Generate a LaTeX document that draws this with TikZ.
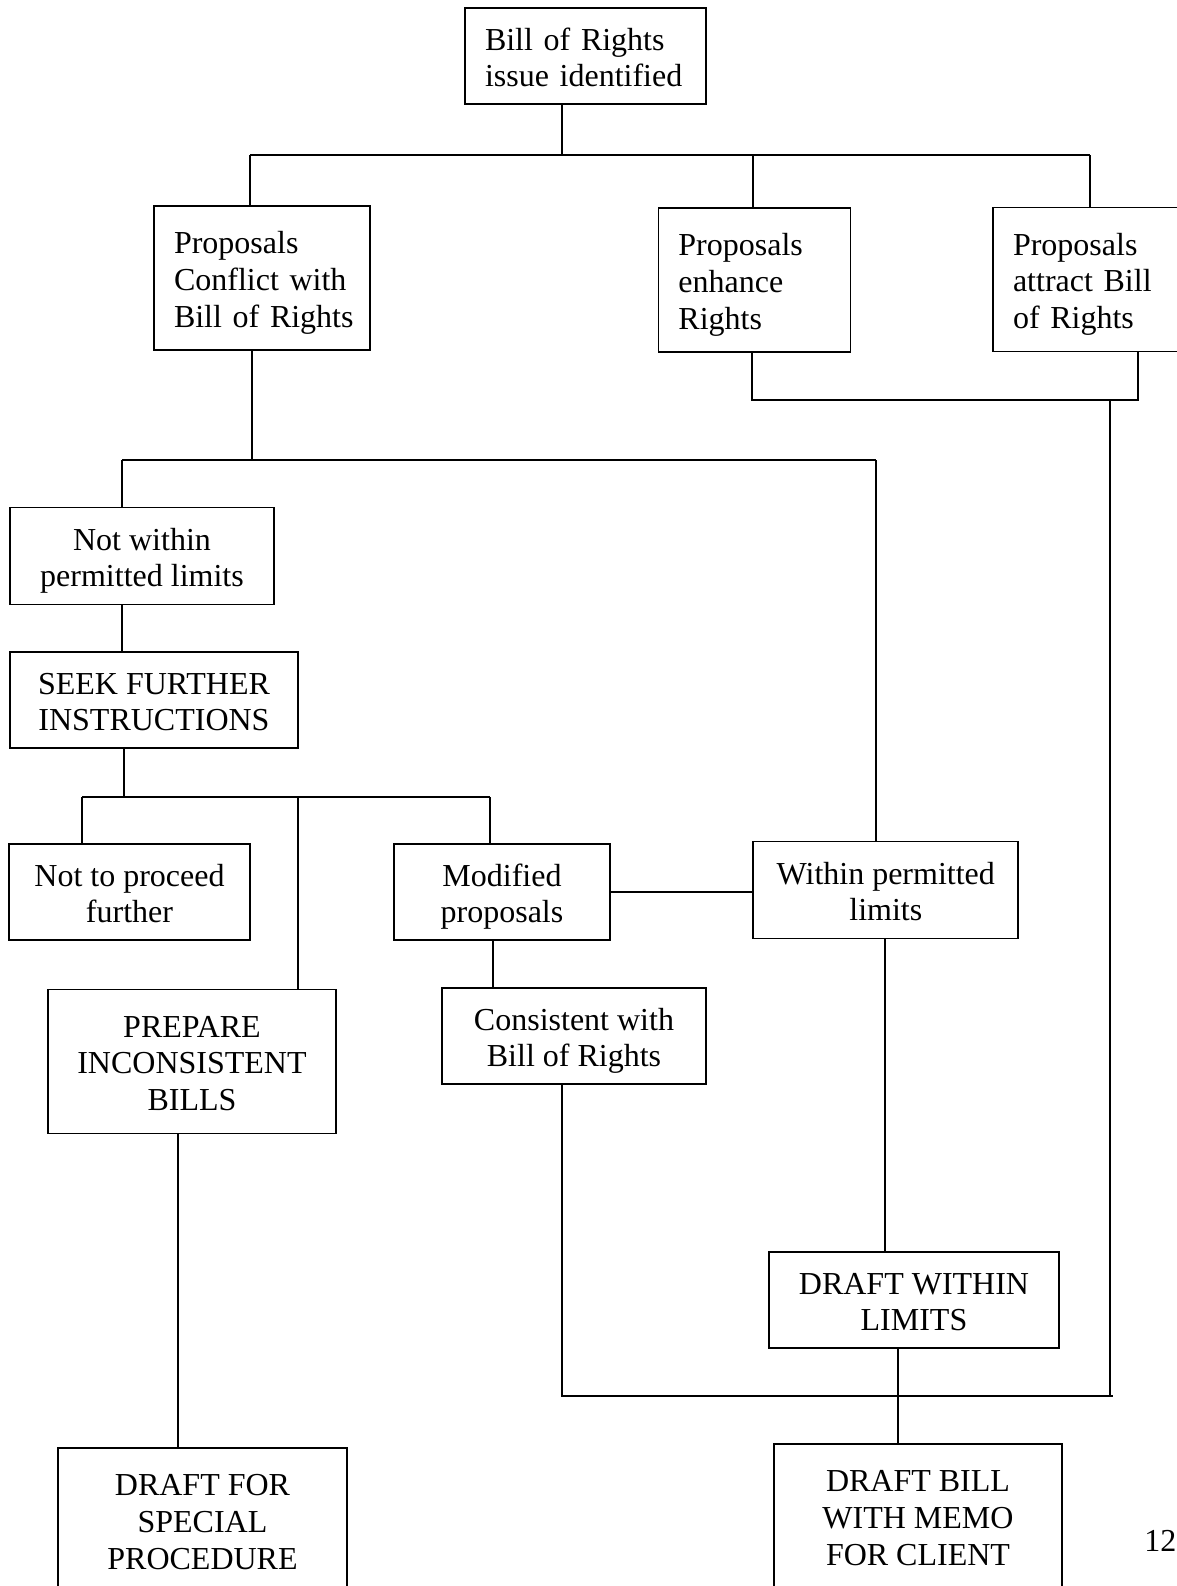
\documentclass[tikz,border=0pt]{standalone}
\usepackage{fontspec}
\setmainfont{Liberation Serif}
\newcommand\topstrut{\rule{0pt}{24.6pt}}
\newcommand\botstrut{\rule[-6pt]{0pt}{6pt}}
\begin{document}
\begin{tikzpicture}[x=0.75pt,y=-0.75pt,
  every node/.style={font=\fontsize{24}{27.5}\selectfont},
  lbox/.style={draw,line width=1.3pt,align=left,inner xsep=15pt,inner ysep=2pt},
  cbox/.style={draw,line width=1.3pt,align=center,inner xsep=4pt,inner ysep=2pt},
  conn/.style={line width=1.3pt}]
\useasboundingbox (0,0) rectangle (1177,1586);
\clip (0,0) rectangle (1177,1586);
\fill[white] (0,0) rectangle (1177,1586);
% boxes
\node[lbox,text width=150.75pt,minimum height=72pt] (b1) at (585.5,56) {\topstrut\mbox{Bill of Rights}\\\mbox{issue identified}\botstrut};
\node[lbox,text width=132pt,minimum height=108pt] (b2) at (262,278) {\topstrut\mbox{Proposals}\\\mbox{Conflict with}\\\mbox{Bill of Rights}\botstrut};
\node[lbox,text width=114pt,minimum height=108pt] (b3) at (754.4,280) {\topstrut\mbox{Proposals}\\\mbox{enhance}\\\mbox{Rights}\botstrut};
\node[lbox,text width=125.25pt,minimum height=108pt] (b4) at (1096.5,279.5) {\topstrut\mbox{Proposals}\\\mbox{attract Bill}\\\mbox{of Rights}\botstrut};
\node[cbox,minimum width=198pt,minimum height=72.75pt] (b5) at (142,556) {\topstrut Not within\\permitted limits\botstrut};
\node[cbox,minimum width=216pt,minimum height=72pt] (b6) at (154,700) {\topstrut SEEK FURTHER\\INSTRUCTIONS\botstrut};
\node[cbox,minimum width=180.75pt,minimum height=72pt] (b7) at (129.5,892) {\topstrut Not to proceed\\further\botstrut};
\node[cbox,minimum width=216pt,minimum height=108pt] (b8) at (192,1061.5) {\topstrut PREPARE\\INCONSISTENT\\BILLS\botstrut};
\node[cbox,minimum width=161.5pt,minimum height=72pt] (b9) at (502,892) {\topstrut Modified\\proposals\botstrut};
\node[cbox,minimum width=198.75pt,minimum height=72.75pt] (b10) at (885.8,890) {\topstrut Within permitted\\limits\botstrut};
\node[cbox,minimum width=198pt,minimum height=72pt] (b11) at (574,1036) {\topstrut Consistent with\\Bill of Rights\botstrut};
\node[cbox,minimum width=217.5pt,minimum height=72pt] (b12) at (914,1300) {\topstrut DRAFT WITHIN\\LIMITS\botstrut};
\node[cbox,minimum width=216.75pt,minimum height=108pt] (b13) at (202.5,1520) {\topstrut DRAFT FOR\\SPECIAL\\PROCEDURE\botstrut};
\node[cbox,minimum width=216pt,minimum height=108pt] (b14) at (918,1516) {\topstrut DRAFT BILL\\WITH MEMO\\FOR CLIENT\botstrut};
\node[anchor=base west,inner sep=0pt] (pg) at (1144,1551) {122};
% junction coordinates
\coordinate (j1) at (562,155);
\coordinate (bL) at (250,155);
\coordinate (bM) at (753,155);
\coordinate (bR) at (1090,155);
\coordinate (r1) at (752,400);
\coordinate (r2) at (1138,400);
\coordinate (r3) at (1110,400);
\coordinate (r4) at (1110,1396);
\coordinate (m0) at (252,460);
\coordinate (mL) at (122,460);
\coordinate (mR) at (876,460);
\coordinate (s0) at (124,797);
\coordinate (sL) at (82,797);
\coordinate (sM) at (298,797);
\coordinate (sR) at (490,797);
\coordinate (c1) at (493,960);
\coordinate (d0) at (562,1396);
\coordinate (dR) at (1113,1396);
\coordinate (e1) at (885,1100);
\coordinate (f1) at (898,1400);
\coordinate (g1) at (178,1300);
\coordinate (h1) at (0,892);
% connectors
\draw[conn] (b1.south -| j1) -- (j1);
\draw[conn] (bL) -- (bR);
\draw[conn] (bL) -- (b2.north -| bL);
\draw[conn] (bM) -- (b3.north -| bM);
\draw[conn] (bR) -- (b4.north -| bR);
\draw[conn] (b3.south -| r1) -- (r1) -- (r2) -- (b4.south -| r2);
\draw[conn] (r3) -- (r4);
\draw[conn] (b2.south -| m0) -- (m0);
\draw[conn] (mL) -- (mR);
\draw[conn] (mL) -- (b5.north -| mL);
\draw[conn] (mR) -- (b10.north -| mR);
\draw[conn] (b5.south -| mL) -- (b6.north -| mL);
\draw[conn] (b6.south -| s0) -- (s0);
\draw[conn] (sL) -- (sR);
\draw[conn] (sL) -- (b7.north -| sL);
\draw[conn] (sM) -- (b8.north -| sM);
\draw[conn] (sR) -- (b9.north -| sR);
\draw[conn] (b9.east |- h1) -- (b10.west |- h1);
\draw[conn] (b9.south -| c1) -- (b11.north -| c1);
\draw[conn] (b11.south -| d0) -- (d0) -- (dR);
\draw[conn] (b10.south -| e1) -- (b12.north -| e1);
\draw[conn] (b12.south -| f1) -- (b14.north -| f1);
\draw[conn] (b8.south -| g1) -- (b13.north -| g1);
\end{tikzpicture}
\end{document}
